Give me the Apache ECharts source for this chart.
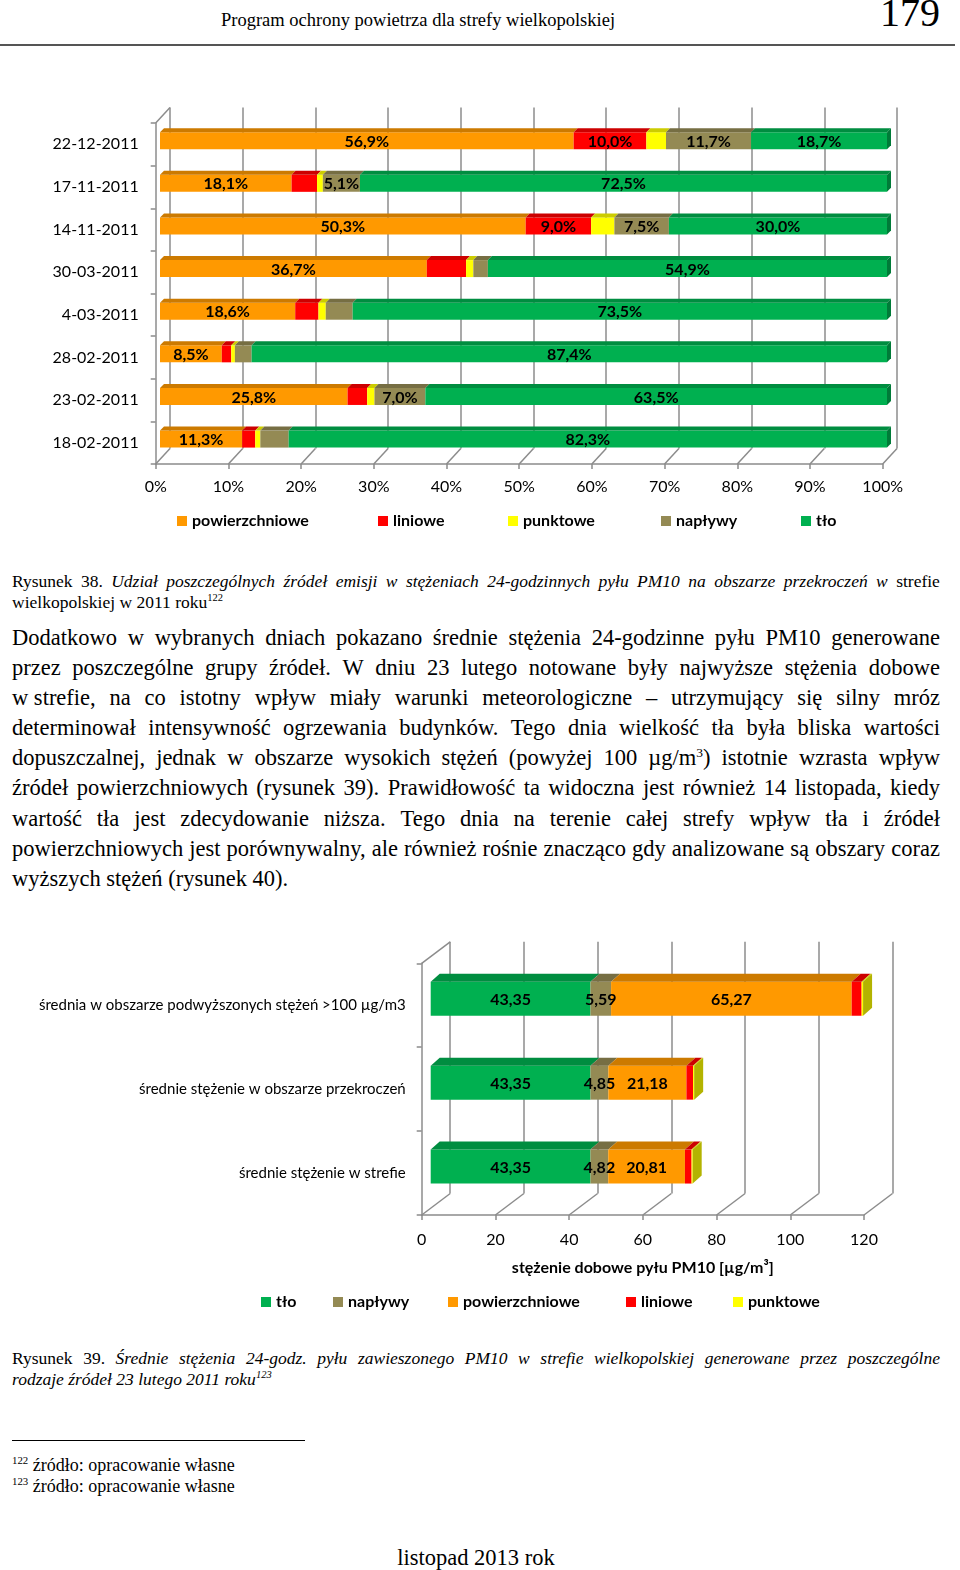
<!DOCTYPE html>
<html>
<head>
<meta charset="utf-8">
<script src="https://cdn.jsdelivr.net/npm/echarts@6/dist/echarts.min.js"></script>
<style>
  html, body { margin:0; padding:0; background:#fff; }
  body { width:960px; height:1570px; position:relative; overflow:hidden; font-family:"Liberation Serif", serif; color:#000; }
  .abs { position:absolute; }
  .ln { display:flex; justify-content:space-between; white-space:nowrap; }
  .ln.last { display:block; white-space:nowrap; }
  .it { font-style:italic; }
  sup { font-size:60%; line-height:0; vertical-align:super; }
</style>
</head>
<body>
<div class="abs" id="hdr" style="left:221px; top:9px; font-size:18.5px; line-height:22px; white-space:nowrap;">Program ochrony powietrza dla strefy wielkopolskiej</div>
<div class="abs" style="right:20px; top:-7px; font-size:40px; line-height:40px;">179</div>
<div class="abs" style="left:0; top:44px; width:955px; height:1.5px; background:#555;"></div>

<div class="abs" id="chart1" style="left:0; top:92px; width:960px; height:450px;"></div>

<div class="abs" id="cap1" style="left:12px; top:571px; width:928px; font-size:17.5px; line-height:21px;"></div>
<div class="abs" id="body1" style="left:12px; top:623px; width:928px; font-size:22.5px; line-height:30.1px;"></div>

<div class="abs" id="chart2" style="left:0; top:925px; width:960px; height:400px;"></div>

<div class="abs" id="cap2" style="left:12px; top:1348px; width:928px; font-size:17.5px; line-height:21px;"></div>

<div class="abs" style="left:12px; top:1440px; width:293px; height:1px; background:#000;"></div>
<div class="abs" style="left:12px; top:1455px; font-size:18px; line-height:21px; white-space:nowrap;"><sup>122</sup>&nbsp;źródło: opracowanie własne<br><sup>123</sup>&nbsp;źródło: opracowanie własne</div>
<div class="abs" style="left:0; width:952px; text-align:center; top:1545px; font-size:22.5px; line-height:26px;">listopad 2013 rok</div>

<script>
// ---------- DATA: chart 1 (Rysunek 38) ----------
const dates1 = ['22-12-2011','17-11-2011','14-11-2011','30-03-2011','4-03-2011','28-02-2011','23-02-2011','18-02-2011'];
const powierzchniowe1 = [56.9, 18.1, 50.3, 36.7, 18.6, 8.5, 25.8, 11.3];
const liniowe1        = [10.0, 3.5, 9.0, 5.4, 3.2, 1.3, 2.7, 1.8];
const punktowe1       = [2.7, 0.8, 3.2, 1.0, 1.0, 0.5, 1.0, 0.7];
const naplywy1        = [11.7, 5.1, 7.5, 2.0, 3.7, 2.3, 7.0, 3.9];
const tlo1            = [18.7, 72.5, 30.0, 54.9, 73.5, 87.4, 63.5, 82.3];
// which rows carry a value label, per source
const labelRows1 = {
  'powierzchniowe': [0,1,2,3,4,5,6,7],
  'liniowe': [0,2],
  'punktowe': [],
  'napływy': [0,1,2,6],
  'tło': [0,1,2,3,4,5,6,7]
};
const ticks1 = [0,10,20,30,40,50,60,70,80,90,100];

// ---------- DATA: chart 2 (Rysunek 39) ----------
const cats2 = ['średnia w obszarze podwyższonych stężeń >100 µg/m3','średnie stężenie w obszarze przekroczeń','średnie stężenie w strefie'];
const tlo2            = [43.35, 43.35, 43.35];
const naplywy2        = [5.59, 4.85, 4.82];
const powierzchniowe2 = [65.27, 21.18, 20.81];
const liniowe2        = [2.7, 1.8, 1.8];
const punktowe2       = [0.4, 0.3, 0.3];
const labelRows2 = {
  'tło': [0,1,2], 'napływy': [0,1,2], 'powierzchniowe': [0,1,2], 'liniowe': [], 'punktowe': []
};
const ticks2 = [0,20,40,60,80,100,120];

// ---------- colours ----------
const COL = { 'powierzchniowe':'#FF9900', 'liniowe':'#FF0000', 'punktowe':'#FFFF00', 'napływy':'#948A54', 'tło':'#00B050' };
const GRAY = '#8c8c8c';
const FONT = 'Lato';

function shade(hex, f) {
  const n = parseInt(hex.slice(1), 16);
  const r = Math.round(((n >> 16) & 255) * f), g = Math.round(((n >> 8) & 255) * f), b = Math.round((n & 255) * f);
  return 'rgb(' + r + ',' + g + ',' + b + ')';
}

function buildStack(valuesList) {
  const n = valuesList[0].length; const cum = new Array(n).fill(0);
  return valuesList.map(vals => vals.map((v, i) => { const s = cum[i]; cum[i] += v; return [s, cum[i], i]; }));
}

function barRender(cfg, color, isLast) {
  return function (params, api) {
    const s = api.value(0), e = api.value(1), ci = api.value(2);
    const a = api.coord([s, ci]), b = api.coord([e, ci]);
    const h = cfg.h, w = b[0] - a[0];
    const x = a[0] + cfg.offX, y = a[1] + cfg.offY - h / 2;
    const dx = cfg.dx, dy = cfg.dy;
    const ch = [
      { type: 'rect', shape: { x: x, y: y, width: w, height: h }, style: { fill: color } },
      { type: 'polygon', shape: { points: [[x, y], [x + dx, y - dy], [x + w + dx, y - dy], [x + w, y]] }, style: { fill: shade(color, 0.8) } }
    ];
    if (isLast) ch.push({ type: 'polygon', shape: { points: [[x + w, y], [x + w + dx, y - dy], [x + w + dx, y + h - dy], [x + w, y + h]] }, style: { fill: shade(color, 0.7) } });
    return { type: 'group', children: ch };
  };
}

function labelRender(cfg, fmt) {
  return function (params, api) {
    const s = api.value(0), e = api.value(1), ci = api.value(2);
    const a = api.coord([s, ci]), b = api.coord([e, ci]);
    return { type: 'text', style: { text: fmt(e - s), x: (a[0] + b[0]) / 2 + cfg.offX, y: a[1] + cfg.offY + 1, align: 'center', verticalAlign: 'middle', font: 'bold ' + cfg.labelSize + 'px ' + FONT, fill: '#000' } };
  };
}

function wallRender(dx, dy) {
  return function (params, api) {
    const cs = params.coordSys; const v = api.value(0);
    const x = api.coord([v, 0])[0]; const yb = cs.y + cs.height;
    const ch = [{ type: 'line', shape: { x1: x, y1: yb, x2: x + dx, y2: yb - dy }, style: { stroke: GRAY, lineWidth: 1.5 } }];
    if (params.dataIndex === 0) ch.push({ type: 'line', shape: { x1: x, y1: cs.y, x2: x + dx, y2: cs.y - dy }, style: { stroke: GRAY, lineWidth: 1.5 } });
    return { type: 'group', children: ch };
  };
}

function makeOption(o) {
  const stacks = buildStack(o.values);
  const series = [];
  series.push({ type: 'custom', name: '_wall', xAxisIndex: 0, yAxisIndex: 0, silent: true, clip: false, z: 1,
    data: o.ticks.map(v => [v, 0]), encode: { x: 0, y: 1 }, renderItem: wallRender(o.wdx, o.wdy) });
  o.names.forEach((nm, k) => {
    series.push({ type: 'custom', name: nm, xAxisIndex: 0, yAxisIndex: 0, clip: false, z: 2,
      itemStyle: { color: COL[nm] }, data: stacks[k], encode: { x: [0, 1], y: 2 },
      renderItem: barRender(o.bar, COL[nm], k === o.names.length - 1) });
  });
  o.names.forEach((nm, k) => {
    const rows = o.labelRows[nm];
    if (!rows.length) return;
    series.push({ type: 'custom', name: '_lbl_' + nm, xAxisIndex: 0, yAxisIndex: 0, clip: false, silent: true, z: 5,
      data: rows.map(i => stacks[k][i]), encode: { x: [0, 1], y: 2 }, renderItem: labelRender(o.bar, o.fmt) });
  });
  const g = o.grid;
  return {
    animation: false,
    textStyle: { fontFamily: FONT },
    grid: [
      { left: g.left, top: g.top, width: g.width, height: g.height },
      { left: g.left + o.wdx, top: g.top - o.wdy, width: g.width, height: g.height }
    ],
    xAxis: [
      { type: 'value', gridIndex: 0, min: o.ticks[0], max: o.ticks[o.ticks.length - 1], interval: o.ticks[1] - o.ticks[0],
        axisLine: { show: true, lineStyle: { color: GRAY, width: 1.5 } },
        axisTick: { show: true, length: 5, lineStyle: { color: GRAY, width: 1.5 } },
        axisLabel: { color: '#000', fontSize: 16, fontFamily: FONT, margin: o.xLabelMargin, formatter: o.xFmt },
        splitLine: { show: false },
        name: o.xName || '', nameLocation: 'middle', nameGap: o.xNameGap || 0,
        nameTextStyle: { color: '#000', fontSize: 16, fontWeight: 'bold', fontFamily: FONT } },
      { type: 'value', gridIndex: 1, min: o.ticks[0], max: o.ticks[o.ticks.length - 1], interval: o.ticks[1] - o.ticks[0],
        axisLine: { show: false }, axisTick: { show: false }, axisLabel: { show: false },
        splitLine: { show: true, lineStyle: { color: GRAY, width: 1.5 } } }
    ],
    yAxis: [
      { type: 'category', gridIndex: 0, data: o.cats, inverse: true,
        axisLine: { show: true, lineStyle: { color: GRAY, width: 1.5 } },
        axisTick: { show: true, length: 5, lineStyle: { color: GRAY, width: 1.5 } },
        axisLabel: { color: '#000', fontSize: o.yLabelSize, fontFamily: FONT, margin: o.yLabelMargin } },
      { type: 'category', gridIndex: 1, data: o.cats, inverse: true, show: false }
    ],
    legend: o.legend.map(L => ({ data: [L.name], left: L.x - 5, top: o.legendTop, padding: 0, itemGap: 0,
      icon: 'rect', itemWidth: 10, itemHeight: 10, selectedMode: false,
      textStyle: { color: '#000', fontSize: 16, fontWeight: 'bold', fontFamily: FONT } })),
    series: series
  };
}

const pct = v => v.toFixed(1).replace('.', ',') + '%';
const dec2 = v => v.toFixed(2).replace('.', ',');

const opt1 = makeOption({
  cats: dates1,
  names: ['powierzchniowe', 'liniowe', 'punktowe', 'napływy', 'tło'],
  values: [powierzchniowe1, liniowe1, punktowe1, naplywy1, tlo1],
  labelRows: labelRows1, ticks: ticks1,
  grid: { left: 155.7, top: 31, width: 727, height: 341 },
  wdx: 14.3, wdy: 15.6,
  bar: { offX: 4.3, offY: -3.6, h: 17, dx: 4, dy: 4, labelSize: 16 },
  fmt: pct, xFmt: '{value}%', xLabelMargin: 15, yLabelSize: 16, yLabelMargin: 17,
  legendTop: 421,
  legend: [ { name: 'powierzchniowe', x: 182 }, { name: 'liniowe', x: 383 }, { name: 'punktowe', x: 513 }, { name: 'napływy', x: 666 }, { name: 'tło', x: 806 } ]
});

const opt2 = makeOption({
  cats: cats2,
  names: ['tło', 'napływy', 'powierzchniowe', 'liniowe', 'punktowe'],
  values: [tlo2, naplywy2, powierzchniowe2, liniowe2, punktowe2],
  labelRows: labelRows2, ticks: ticks2,
  grid: { left: 421.7, top: 38.3, width: 442.3, height: 251.7 },
  wdx: 28.5, wdy: 21.5,
  bar: { offX: 9, offY: -6.5, h: 34, dx: 9, dy: 8, labelSize: 16 },
  fmt: dec2, xFmt: '{value}', xLabelMargin: 17, yLabelSize: 15, yLabelMargin: 16,
  xName: 'stężenie dobowe pyłu PM10 [µg/m³]', xNameGap: 45,
  legendTop: 369,
  legend: [ { name: 'tło', x: 266 }, { name: 'napływy', x: 338 }, { name: 'powierzchniowe', x: 453 }, { name: 'liniowe', x: 631 }, { name: 'punktowe', x: 738 } ]
});

echarts.init(document.getElementById('chart1'), null, { renderer: 'canvas' }).setOption(opt1);
echarts.init(document.getElementById('chart2'), null, { renderer: 'canvas' }).setOption(opt2);

// ---------- text blocks (justified lines) ----------
function fillLines(id, lines) {
  const box = document.getElementById(id);
  lines.forEach((ln, i) => {
    const last = i === lines.length - 1;
    const d = document.createElement('div');
    d.className = last ? 'ln last' : 'ln';
    const segs = ln.split('*');
    const words = [];
    segs.forEach((seg, si) => {
      seg.split(' ').filter(w => w.length).forEach(w => words.push({ w: w, it: si % 2 === 1 }));
    });
    if (last) {
      d.innerHTML = words.map(o => o.it ? '<span class="it">' + o.w + '</span>' : o.w).join(' ');
    } else {
      words.forEach(o => { const s = document.createElement('span'); if (o.it) s.className = 'it'; s.innerHTML = o.w; d.appendChild(s); });
    }
    box.appendChild(d);
  });
}

fillLines('cap1', [
  'Rysunek 38. *Udział poszczególnych źródeł emisji w stężeniach 24-godzinnych pyłu PM10 na obszarze przekroczeń w* strefie',
  'wielkopolskiej w 2011 roku<sup>122</sup>'
]);
fillLines('body1', [
  'Dodatkowo w wybranych dniach pokazano średnie stężenia 24-godzinne pyłu PM10 generowane',
  'przez poszczególne grupy źródeł. W dniu 23 lutego notowane były najwyższe stężenia dobowe',
  'w&nbsp;strefie, na co istotny wpływ miały warunki meteorologiczne – utrzymujący się silny mróz',
  'determinował intensywność ogrzewania budynków. Tego dnia wielkość tła była bliska wartości',
  'dopuszczalnej, jednak w obszarze wysokich stężeń (powyżej 100 µg/m<sup>3</sup>) istotnie wzrasta wpływ',
  'źródeł powierzchniowych (rysunek 39). Prawidłowość ta widoczna jest również 14 listopada, kiedy',
  'wartość tła jest zdecydowanie niższa. Tego dnia na terenie całej strefy wpływ tła i źródeł',
  'powierzchniowych jest porównywalny, ale również rośnie znacząco gdy analizowane są obszary coraz',
  'wyższych stężeń (rysunek 40).'
]);
fillLines('cap2', [
  'Rysunek 39. *Średnie stężenia 24-godz. pyłu zawieszonego PM10 w strefie wielkopolskiej generowane przez poszczególne*',
  '*rodzaje źródeł 23 lutego 2011 roku<sup>123</sup>*'
]);
</script>
</body>
</html>
